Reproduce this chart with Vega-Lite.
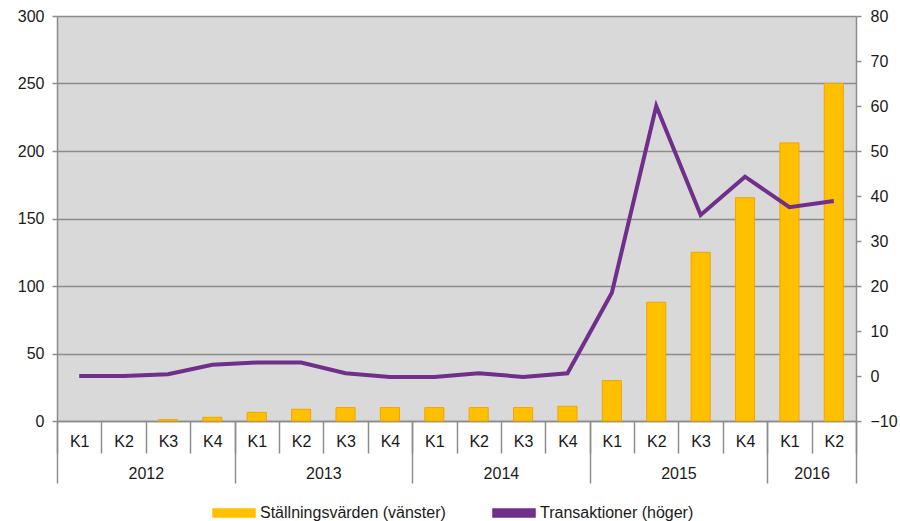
{
  "$schema": "https://vega.github.io/schema/vega-lite/v6.json",
  "autosize": {"type": "none"},
  "padding": {"left": 57, "top": 16, "right": 44, "bottom": 100},
  "width": 799,
  "height": 405,
  "background": "#ffffff",
  "config": {
    "view": {"fill": "#D9D9D9", "stroke": null},
    "font": "Liberation Sans",
    "axis": {
      "labelFont": "Liberation Sans",
      "labelFontSize": 16,
      "labelColor": "#1a1a1a",
      "domainColor": "#8c8c8c",
      "domainWidth": 1.5,
      "tickColor": "#8c8c8c",
      "tickWidth": 1.5,
      "gridColor": "#8c8c8c",
      "gridWidth": 1.5,
      "title": null
    }
  },
  "data": {
    "values": [
      {"q": "2012 K1", "stallning": 0, "transaktioner": 0},
      {"q": "2012 K2", "stallning": 0, "transaktioner": 0},
      {"q": "2012 K3", "stallning": 1, "transaktioner": 0.4},
      {"q": "2012 K4", "stallning": 2.7, "transaktioner": 2.5},
      {"q": "2013 K1", "stallning": 6.4, "transaktioner": 3.0},
      {"q": "2013 K2", "stallning": 8.7, "transaktioner": 3.0},
      {"q": "2013 K3", "stallning": 9.9, "transaktioner": 0.6},
      {"q": "2013 K4", "stallning": 9.9, "transaktioner": -0.2},
      {"q": "2014 K1", "stallning": 9.9, "transaktioner": -0.2},
      {"q": "2014 K2", "stallning": 9.9, "transaktioner": 0.6},
      {"q": "2014 K3", "stallning": 9.9, "transaktioner": -0.2},
      {"q": "2014 K4", "stallning": 10.9, "transaktioner": 0.6},
      {"q": "2015 K1", "stallning": 30, "transaktioner": 18.5},
      {"q": "2015 K2", "stallning": 88, "transaktioner": 60},
      {"q": "2015 K3", "stallning": 125, "transaktioner": 35.8},
      {"q": "2015 K4", "stallning": 165.4, "transaktioner": 44.3},
      {"q": "2016 K1", "stallning": 206, "transaktioner": 37.5},
      {"q": "2016 K2", "stallning": 250, "transaktioner": 38.9}
    ]
  },
  "layer": [
    {
      "mark": {"type": "bar", "width": {"band": 0.43}, "strokeWidth": 1},
      "encoding": {
        "x": {
          "field": "q", "type": "nominal", "sort": null,
          "scale": {"paddingInner": 0, "paddingOuter": 0},
          "axis": {
            "orient": "bottom",
            "tickBand": "extent",
            "tickSize": 32,
            "labelAngle": 0,
            "labelExpr": "split(datum.value, ' ')[1]",
            "labelBaseline": "middle",
            "labelPadding": -12,
            "labelOverlap": false,
            "grid": false
          }
        },
        "y": {
          "field": "stallning", "type": "quantitative",
          "scale": {"domain": [0, 300], "nice": false},
          "axis": {"orient": "left", "values": [0, 50, 100, 150, 200, 250, 300], "tickSize": 5, "labelPadding": 8, "grid": true}
        },
        "stroke": {"condition": {"test": "datum.stallning > 0", "value": "#F2A400"}, "value": null},
        "color": {
          "datum": "Ställningsvärden (vänster)",
          "type": "nominal",
          "scale": {"domain": ["Ställningsvärden (vänster)", "Transaktioner (höger)"], "range": ["#FFC000", "#702F8A"]},
          "legend": {
            "title": null,
            "orient": "none",
            "legendX": 155,
            "legendY": 475,
            "direction": "horizontal",
            "padding": 0,
            "labelFont": "Liberation Sans",
            "labelFontSize": 16,
            "labelColor": "#1a1a1a",
            "labelLimit": 400,
            "labelOffset": 4,
            "columnPadding": 44,
            "symbolSize": 1764,
            "symbolType": "M-1,-0.19H1V0.19H-1Z",
            "encode": {
              "symbols": {
                "update": {
                  "shape": {"signal": "datum.value === 'Transaktioner (höger)' ? 'M-1,0H1' : 'M-1,-0.19H1V0.19H-1Z'"},
                  "fill": {"signal": "datum.value === 'Transaktioner (höger)' ? 'transparent' : '#FFC000'"},
                  "stroke": {"signal": "datum.value === 'Transaktioner (höger)' ? '#702F8A' : '#F2A400'"},
                  "strokeWidth": {"signal": "datum.value === 'Transaktioner (höger)' ? 4.5 : 1"},
                  "opacity": {"value": 1},
                  "fillOpacity": {"value": 1},
                  "strokeOpacity": {"value": 1}
                }
              }
            }
          }
        }
      }
    },
    {
      "mark": {"type": "line", "strokeWidth": 4, "interpolate": "linear"},
      "encoding": {
        "x": {
          "field": "q", "type": "nominal", "sort": null,
          "axis": {
            "orient": "bottom",
            "tickBand": "extent",
            "tickSize": 62,
            "domain": false,
            "tickOpacity": {"condition": {"test": "!isValid(datum.value) || indexof(['2012 K4','2013 K4','2014 K4','2015 K4','2016 K2'], datum.value) >= 0", "value": 1}, "value": 0},
            "labelAngle": 0,
            "labelExpr": "indexof(['2012 K2','2013 K2','2014 K2','2015 K2','2016 K1'], datum.value) >= 0 ? split(datum.value, ' ')[0] : ''",
            "labelOffset": 22.2,
            "labelBaseline": "middle",
            "labelPadding": -10,
            "labelOverlap": false,
            "grid": false
          }
        },
        "y": {
          "field": "transaktioner", "type": "quantitative",
          "scale": {"domain": [-10, 80], "nice": false, "zero": false},
          "axis": {"orient": "right", "values": [-10, 0, 10, 20, 30, 40, 50, 60, 70, 80], "tickSize": 5, "labelPadding": 9, "grid": false}
        },
        "color": {"datum": "Transaktioner (höger)", "type": "nominal"}
      }
    }
  ],
  "resolve": {"scale": {"y": "independent"}, "axis": {"x": "independent", "y": "independent"}}
}
